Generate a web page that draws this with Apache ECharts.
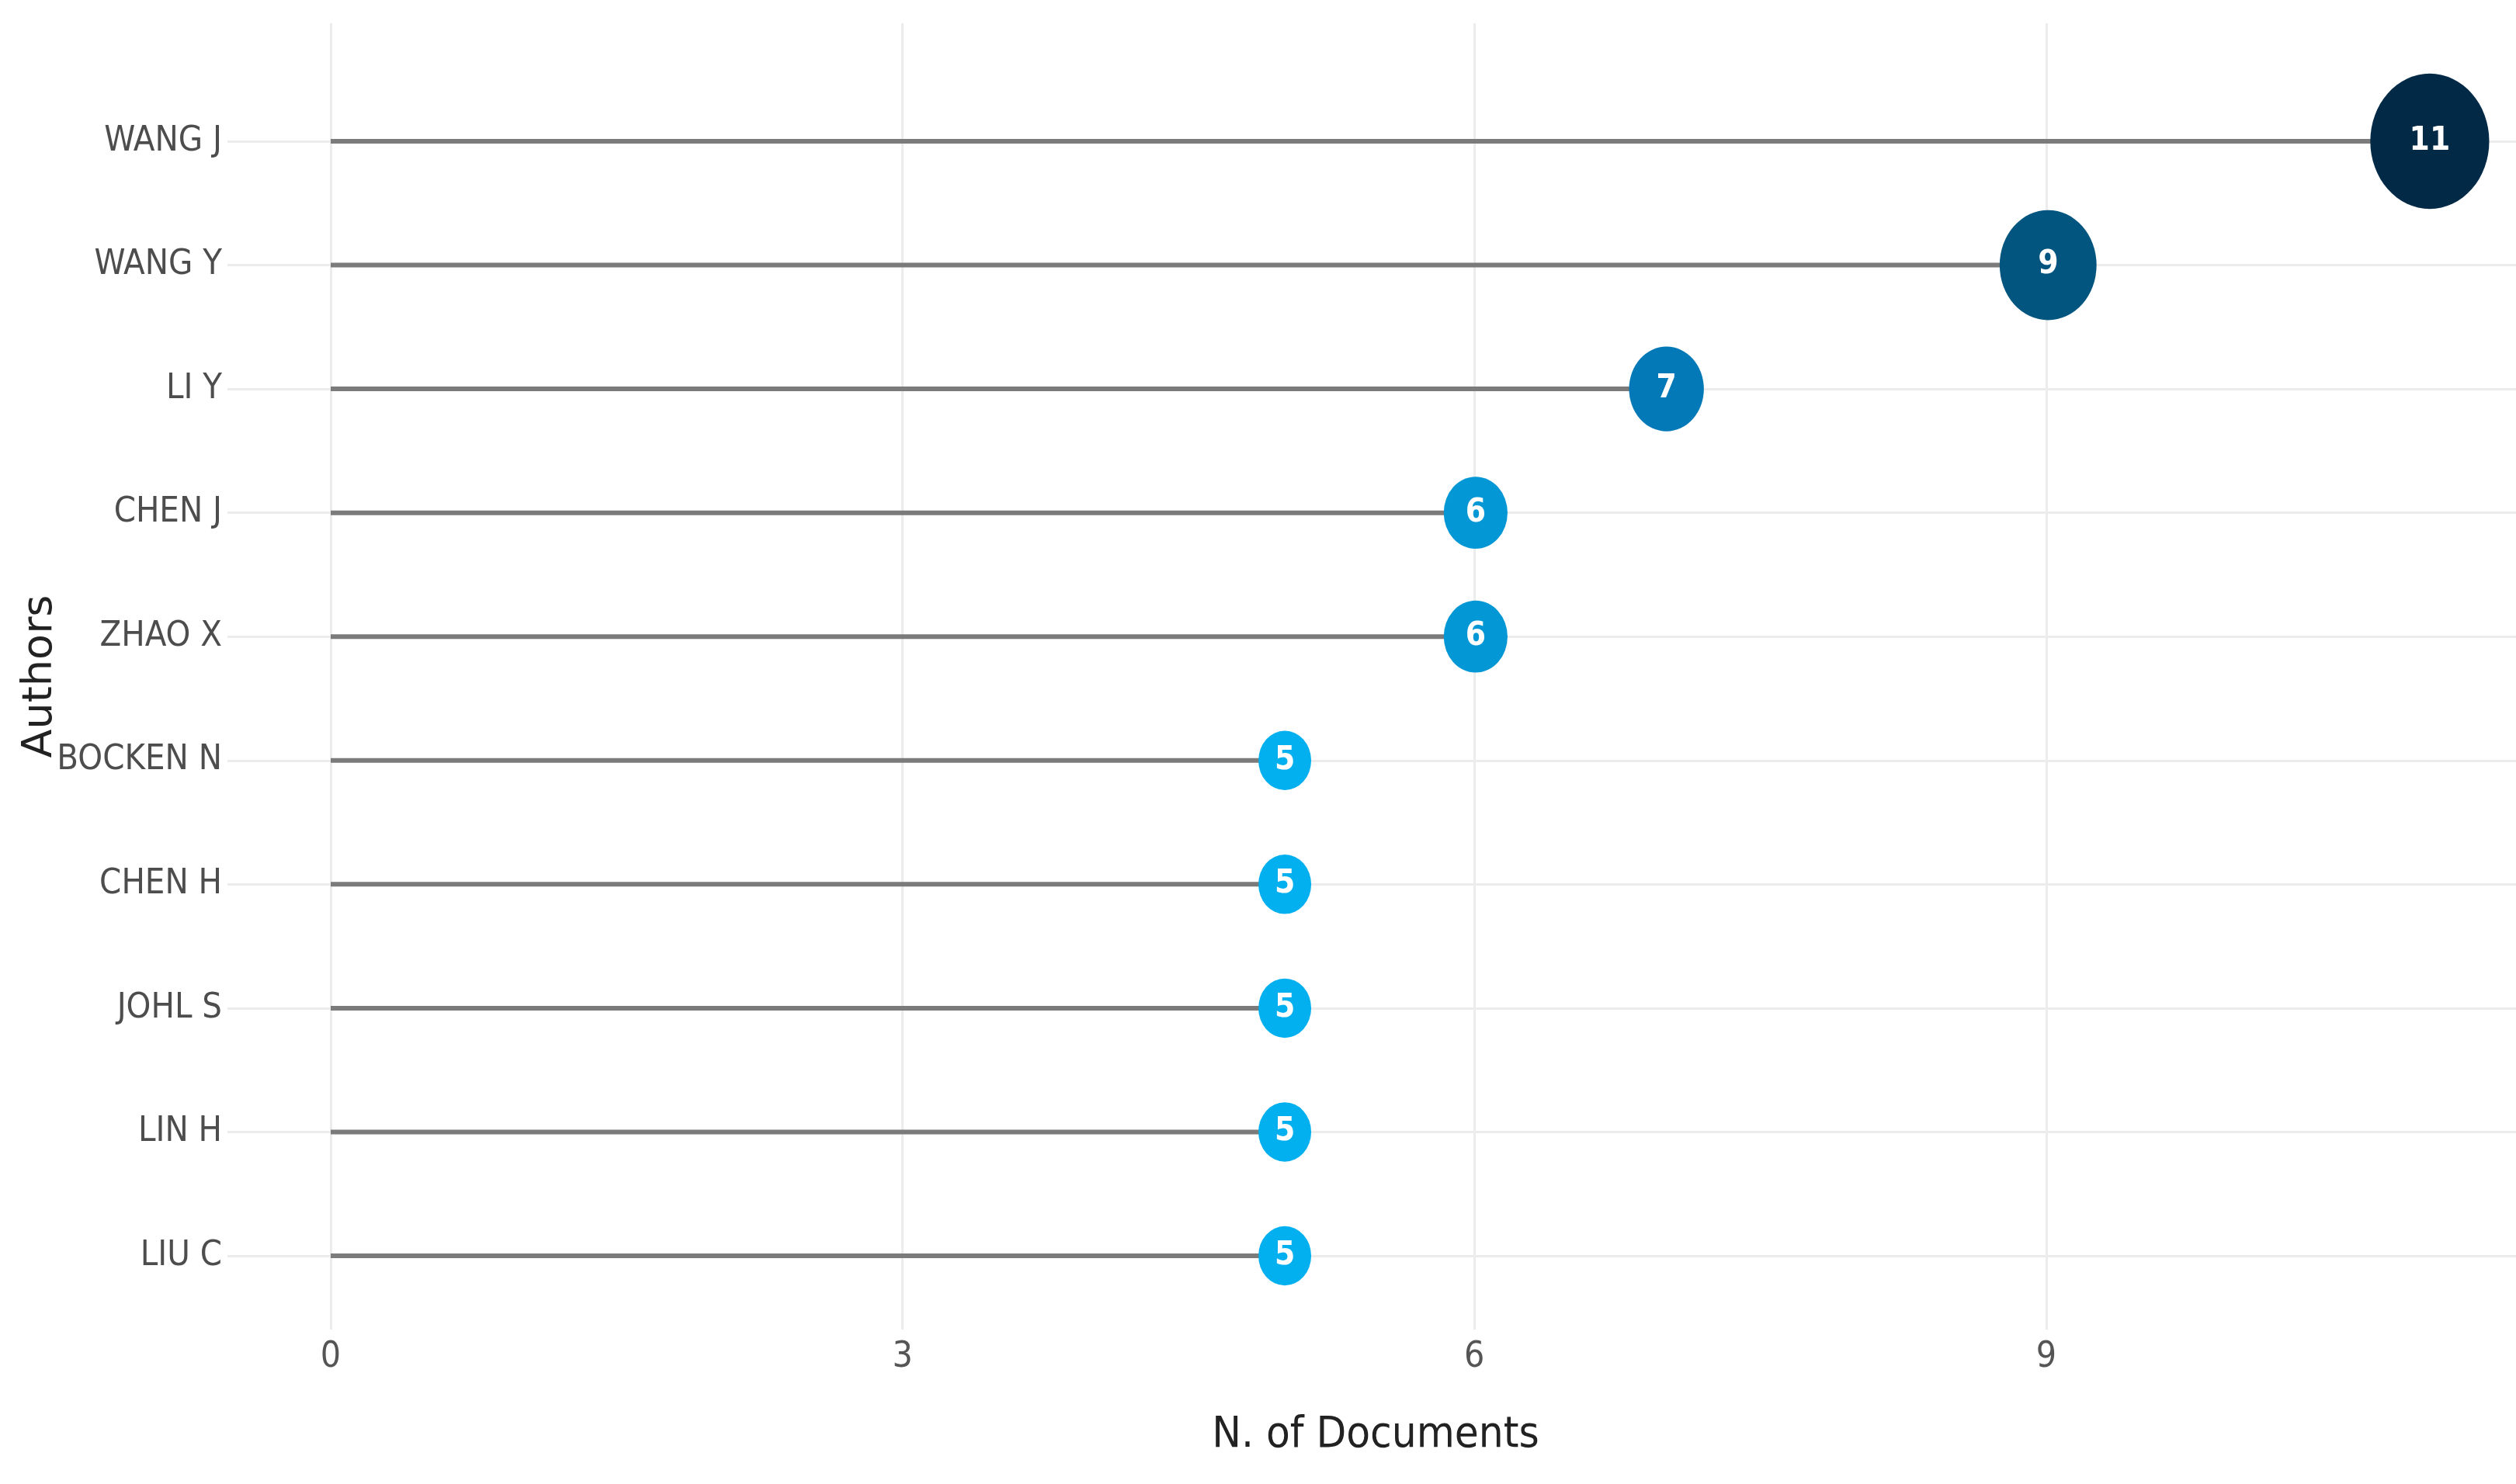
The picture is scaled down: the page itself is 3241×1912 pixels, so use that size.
<!DOCTYPE html>
<html><head><meta charset="utf-8">
<script src="https://cdn.jsdelivr.net/npm/echarts@6/dist/echarts.min.js"></script>
<style>html,body{margin:0;padding:0;background:#fff}#c{width:3241px;height:1912px}</style>
</head><body><div id="c"></div>
<script>
const authors = ['WANG J','WANG Y','LI Y','CHEN J','ZHAO X','BOCKEN N','CHEN H','JOHL S','LIN H','LIU C'];
const documents = [11, 9, 7, 6, 6, 5, 5, 5, 5, 5];
const xTicks = [0, 3, 6, 9];
const xTitle = 'N. of Documents';
const yTitle = 'Authors';

const narrow = '"Liberation Sans Narrow", "DejaVu Sans Condensed", sans-serif';
const gridColor = '#ececec';
const xMin = -0.541, xMax = 11.452;

const chart = echarts.init(document.getElementById('c'));
chart.setOption({
  backgroundColor: '#ffffff',
  animation: false,
  grid: [
    { left: 426, right: 0, top: 30, bottom: 199 },
    { left: 293, right: 0, top: 182, bottom: 294 }
  ],
  xAxis: [
    {
      gridIndex: 0, type: 'value', min: 0, max: xMax, interval: 3,
      axisLine: { show: false }, axisTick: { show: false },
      splitLine: { show: true, lineStyle: { color: [gridColor, gridColor, gridColor, gridColor, 'rgba(0,0,0,0)'], width: 3 } },
      axisLabel: {
        margin: 13, fontSize: 46, lineHeight: 46, color: '#555555', fontFamily: narrow,
        formatter: v => (xTicks.indexOf(v) >= 0 ? String(v) : '')
      },
      name: xTitle, nameLocation: 'middle', nameGap: 108,
      nameTextStyle: { fontSize: 56, lineHeight: 56, color: '#222222', fontFamily: narrow, padding: [0, 120, 0, 0] }
    },
    {
      gridIndex: 1, type: 'value', min: xMin, max: xMax, show: false
    }
  ],
  yAxis: [
    {
      gridIndex: 0, type: 'value',
      axisLine: { show: false }, axisTick: { show: false },
      axisLabel: { show: false }, splitLine: { show: false },
      name: yTitle, nameLocation: 'middle', nameRotate: 90, nameGap: 347,
      nameTextStyle: { fontSize: 54, lineHeight: 54, color: '#222222', fontFamily: '"DejaVu Sans", sans-serif' }
    },
    {
      gridIndex: 1, type: 'category', data: authors, inverse: true, boundaryGap: false,
      axisLine: { show: false }, axisTick: { show: false },
      splitLine: { show: true, lineStyle: { color: gridColor, width: 3 } },
      axisLabel: { margin: 7, fontSize: 45, color: '#4d4d4d', fontFamily: narrow }
    }
  ],
  visualMap: {
    show: false, type: 'continuous', seriesIndex: 1, dimension: 0,
    min: 5, max: 11,
    inRange: { color: ['#02AFEF', '#0497D5', '#0479B7', '#03668F', '#02557F', '#033F63', '#022A47'] }
  },
  series: [
    {
      type: 'bar', xAxisIndex: 1, yAxisIndex: 1,
      data: documents, barWidth: 6, z: 2,
      itemStyle: { color: '#7b7b7b' }, silent: true
    },
    {
      type: 'scatter', xAxisIndex: 1, yAxisIndex: 1, z: 3,
      data: documents.map((v, i) => [v, i]),
      symbol: 'circle',
      symbolSize: v => [14.2 * v[0] - 3, 16.3 * v[0] - 5],
      itemStyle: { opacity: 1 },
      label: {
        show: true, position: 'inside', color: '#ffffff', fontWeight: 'bold',
        fontSize: 42, fontFamily: narrow,
        formatter: p => String(p.value[0])
      }
    }
  ]
});
</script>
</body></html>
